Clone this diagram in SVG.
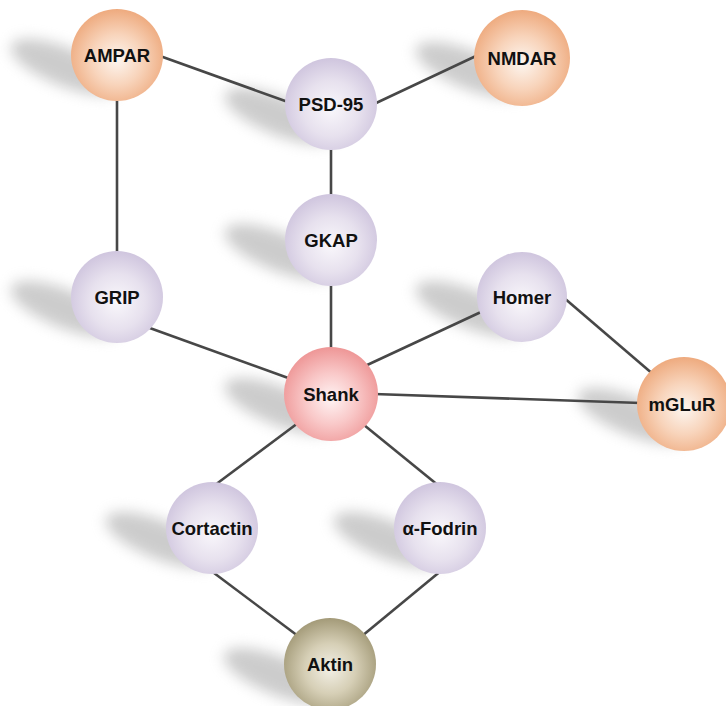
<svg xmlns="http://www.w3.org/2000/svg" width="726" height="706" viewBox="0 0 726 706">
<style>
.edge{stroke:#474747;stroke-width:2.6;fill:none}
.lbl{font-family:"Liberation Sans",Arial,sans-serif;font-weight:bold;font-size:18.5px;fill:#111;text-anchor:middle;dominant-baseline:central}
.sh{fill:#9a9a9a;opacity:0.5;filter:url(#blur)}
</style>
<defs>
<filter id="blur" x="-50%" y="-100%" width="200%" height="300%"><feGaussianBlur stdDeviation="7"/></filter>
<radialGradient id="gOr" cx="50%" cy="55%" r="55%"><stop offset="0" stop-color="#fdf6f0"/><stop offset="0.5" stop-color="#f8d4bb"/><stop offset="1" stop-color="#eeaa7e"/></radialGradient>
<radialGradient id="gLv" cx="50%" cy="55%" r="55%"><stop offset="0" stop-color="#f9f7fb"/><stop offset="0.55" stop-color="#e7e1ee"/><stop offset="1" stop-color="#cfc5de"/></radialGradient>
<radialGradient id="gRd" cx="50%" cy="55%" r="55%"><stop offset="0" stop-color="#fff4f4"/><stop offset="0.5" stop-color="#f9c8c8"/><stop offset="1" stop-color="#ee9696"/></radialGradient>
<radialGradient id="gAk" cx="50%" cy="55%" r="55%"><stop offset="0" stop-color="#f3f0e6"/><stop offset="0.5" stop-color="#d6cfb6"/><stop offset="1" stop-color="#a39a78"/></radialGradient>
<ellipse id="shadow" class="sh" cx="-52" cy="12" rx="58" ry="19" transform="rotate(22 -52 12)"/>
</defs>
<g id="shadows">
<use href="#shadow" x="117" y="55"/>
<use href="#shadow" x="331" y="104"/>
<use href="#shadow" x="522" y="58"/>
<use href="#shadow" x="331" y="240"/>
<use href="#shadow" x="117" y="297"/>
<use href="#shadow" x="522" y="297"/>
<use href="#shadow" x="331" y="394"/>
<use href="#shadow" x="684" y="404"/>
<use href="#shadow" x="212" y="528"/>
<use href="#shadow" x="440" y="528"/>
<use href="#shadow" x="330" y="664"/>
</g>
<g id="connectors">
<line class="edge" x1="160" y1="56" x2="288" y2="102"/>
<line class="edge" x1="374" y1="104" x2="476" y2="56"/>
<line class="edge" x1="117" y1="95" x2="117" y2="255"/>
<line class="edge" x1="331" y1="145" x2="331" y2="200"/>
<line class="edge" x1="331" y1="280" x2="331" y2="352"/>
<line class="edge" x1="147" y1="327" x2="291" y2="379"/>
<line class="edge" x1="481" y1="312" x2="365" y2="366"/>
<line class="edge" x1="563" y1="297" x2="654" y2="375"/>
<line class="edge" x1="374" y1="394" x2="641" y2="403"/>
<line class="edge" x1="215" y1="485" x2="298" y2="423"/>
<line class="edge" x1="364" y1="425" x2="439" y2="486"/>
<line class="edge" x1="210" y1="570" x2="298" y2="636"/>
<line class="edge" x1="442" y1="570" x2="362" y2="636"/>
</g>
<g id="AMPAR"><circle cx="117" cy="55" r="46" fill="url(#gOr)"/><text class="lbl" x="117" y="55">AMPAR</text></g>
<g id="PSD-95"><circle cx="331" cy="104" r="46" fill="url(#gLv)"/><text class="lbl" x="331" y="104">PSD-95</text></g>
<g id="NMDAR"><circle cx="522" cy="58" r="48" fill="url(#gOr)"/><text class="lbl" x="522" y="58">NMDAR</text></g>
<g id="GKAP"><circle cx="331" cy="240" r="46" fill="url(#gLv)"/><text class="lbl" x="331" y="240">GKAP</text></g>
<g id="GRIP"><circle cx="117" cy="297" r="46" fill="url(#gLv)"/><text class="lbl" x="117" y="297">GRIP</text></g>
<g id="Homer"><circle cx="522" cy="297" r="45" fill="url(#gLv)"/><text class="lbl" x="522" y="297">Homer</text></g>
<g id="Shank"><circle cx="331" cy="394" r="47" fill="url(#gRd)"/><text class="lbl" x="331" y="394">Shank</text></g>
<g id="mGLuR"><circle cx="684" cy="404" r="47" fill="url(#gOr)"/><text class="lbl" x="682" y="404">mGLuR</text></g>
<g id="Cortactin"><circle cx="212" cy="528" r="46" fill="url(#gLv)"/><text class="lbl" x="212" y="528">Cortactin</text></g>
<g id="alpha-Fodrin"><circle cx="440" cy="528" r="46" fill="url(#gLv)"/><text class="lbl" x="440" y="528">α-Fodrin</text></g>
<g id="Aktin"><circle cx="330" cy="664" r="46" fill="url(#gAk)"/><text class="lbl" x="330" y="664">Aktin</text></g>
</svg>
